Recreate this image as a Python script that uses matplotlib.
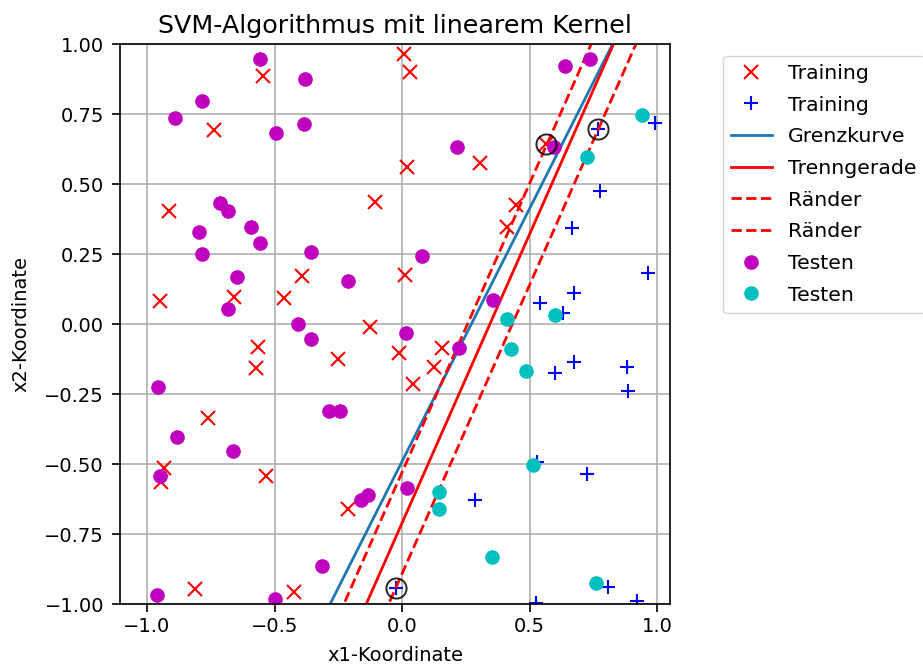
import numpy as np
import matplotlib
matplotlib.use("Agg")
import matplotlib.pyplot as plt

# Trainingsdaten Klasse 1 (rot, x)
train1_x = [-0.545, -0.737, 0.008, 0.031, -0.914, -0.106, 0.020, 0.306, 0.447, 0.412,
            0.565, -0.392, -0.659, -0.463, -0.949, 0.012, -0.565, -0.573, -0.125, -0.251,
            -0.012, 0.157, 0.125, 0.043, -0.761, -0.933, -0.945, -0.533, -0.212, -0.812,
            -0.424]
train1_y = [0.886, 0.693, 0.964, 0.900, 0.404, 0.436, 0.561, 0.575, 0.425, 0.346,
            0.643, 0.171, 0.096, 0.093, 0.082, 0.175, -0.082, -0.157, -0.011, -0.125,
            -0.104, -0.086, -0.154, -0.214, -0.336, -0.514, -0.564, -0.543, -0.661, -0.946,
            -0.957]

# Trainingsdaten Klasse 2 (blau, +)
train2_x = [0.992, 0.776, 0.667, 0.769, 0.965, 0.675, 0.541, 0.631, 0.675, 0.600,
            0.882, 0.886, 0.529, 0.725, 0.286, 0.808, 0.922, 0.525, -0.024]
train2_y = [0.718, 0.475, 0.343, 0.696, 0.182, 0.111, 0.075, 0.039, -0.136, -0.175,
            -0.154, -0.239, -0.493, -0.536, -0.629, -0.939, -0.989, -0.996, -0.943]

# Testdaten Klasse 1 (magenta)
test1_x = [-0.557, -0.380, -0.784, -0.890, -0.494, -0.384, -0.714, -0.682, -0.592, -0.796,
           -0.557, -0.784, -0.357, -0.647, -0.212, -0.682, -0.408, -0.357, -0.957, -0.286,
           -0.243, 0.078, 0.016, 0.357, 0.224, 0.216, 0.639, 0.737, 0.596, -0.882,
           -0.663, -0.949, -0.161, -0.133, -0.314, -0.961, -0.498, 0.020]
test1_y = [0.946, 0.875, 0.796, 0.736, 0.682, 0.714, 0.432, 0.404, 0.346, 0.329,
           0.289, 0.250, 0.257, 0.168, 0.154, 0.054, 0.000, -0.054, -0.225, -0.311,
           -0.311, 0.243, -0.032, 0.086, -0.086, 0.632, 0.921, 0.946, 0.632, -0.404,
           -0.454, -0.543, -0.629, -0.611, -0.864, -0.968, -0.982, -0.586]

# Testdaten Klasse 2 (cyan)
test2_x = [0.941, 0.725, 0.412, 0.600, 0.427, 0.486, 0.514, 0.145, 0.145, 0.353, 0.761]
test2_y = [0.746, 0.596, 0.018, 0.032, -0.089, -0.168, -0.504, -0.600, -0.661, -0.832, -0.925]

# Stuetzvektoren
sv_x = [0.565, 0.769, -0.024]
sv_y = [0.643, 0.696, -0.943]

# Geraden y = m*x + b
svm_m, svm_b, margin = 2.062, -0.711, 0.181
grenz_m, grenz_b = 1.805, -0.491

fig = plt.figure(figsize=(9.23, 6.68), dpi=100)
ax = fig.add_axes([120/923, 64/668, 550/923, 560/668])

ms = 9.5
ax.plot(train1_x, train1_y, 'rx', ms=ms, mew=1.5, label='Training')
ax.plot(train2_x, train2_y, 'b+', ms=ms, mew=1.5, label='Training')

xx = np.linspace(-1.2, 1.2, 50)
ax.plot(xx, grenz_m*xx + grenz_b, color='#1f77b4', lw=2, label='Grenzkurve')
ax.plot(xx, svm_m*xx + svm_b, 'r-', lw=2, label='Trenngerade')
ax.plot(xx, svm_m*xx + svm_b + margin, 'r--', lw=2, label='Ränder')
ax.plot(xx, svm_m*xx + svm_b - margin, 'r--', lw=2, label='Ränder')

ax.plot(test1_x, test1_y, 'o', color='m', ms=ms, label='Testen')
ax.plot(test2_x, test2_y, 'o', color='c', ms=ms, label='Testen')

ax.plot(sv_x, sv_y, 'o', ms=14.5, mfc='none', mec='k', mew=1.4, alpha=0.85)

ax.set_xlim(-1.106, 1.051)
ax.set_ylim(-1, 1)
ax.set_xticks([-1.0, -0.5, 0.0, 0.5, 1.0])
ax.set_yticks([-1.0, -0.75, -0.5, -0.25, 0.0, 0.25, 0.5, 0.75, 1.0])
ax.grid(True, color='#b0b0b0', lw=1.2)
ax.set_axisbelow(True)
ax.tick_params(labelsize=14, length=6, width=1.2)
ax.tick_params(axis='y', pad=5.5)
for s in ax.spines.values():
    s.set_linewidth(1.2)

ax.set_title('SVM-Algorithmus mit linearem Kernel', fontsize=18.3, pad=8)
ax.set_xlabel('x1-Koordinate', fontsize=14, labelpad=7)
ax.set_ylabel('x2-Koordinate', fontsize=14, labelpad=10)

ax.legend(loc='upper left', bbox_to_anchor=(1.096, 0.979), borderaxespad=0,
          fontsize=14.7, labelspacing=0.62, handlelength=2.0)

fig.savefig('out.png', dpi=100)
